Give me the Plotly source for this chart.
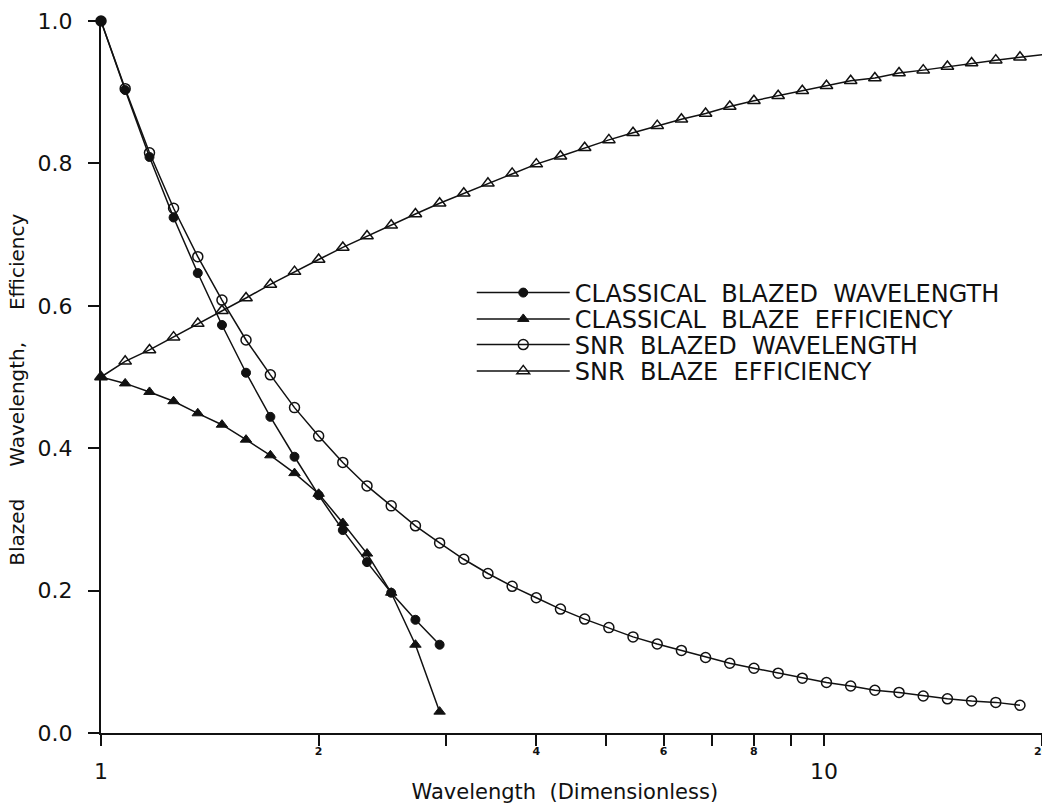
import plotly.graph_objects as go

# Wavelength sample points (dimensionless)
wavelength = [1.000, 1.080, 1.167, 1.260, 1.361, 1.470, 1.587, 1.715, 1.852, 2.000,
              2.160, 2.333, 2.520, 2.722, 2.940, 3.175, 3.429, 3.704, 4.000, 4.320,
              4.666, 5.040, 5.443, 5.879, 6.350, 6.858, 7.407, 8.000, 8.641, 9.332,
              10.079, 10.886, 11.758, 12.699, 13.716, 14.814, 16.000, 17.281, 18.665, 20.159]

classical_blazed_wavelength = [1.000, 0.903, 0.809, 0.724, 0.646, 0.573, 0.506, 0.444,
                               0.388, 0.334, 0.285, 0.240, 0.197, 0.159, 0.124]

classical_blaze_efficiency = [0.500, 0.491, 0.479, 0.466, 0.449, 0.433, 0.412, 0.390,
                              0.365, 0.336, 0.295, 0.252, 0.197, 0.124, 0.030]

snr_blazed_wavelength = [1.000, 0.905, 0.815, 0.737, 0.669, 0.608, 0.552, 0.503, 0.457,
                         0.417, 0.380, 0.347, 0.319, 0.291, 0.267, 0.244, 0.224, 0.206,
                         0.190, 0.174, 0.160, 0.148, 0.135, 0.125, 0.116, 0.106, 0.098,
                         0.091, 0.084, 0.077, 0.071, 0.066, 0.060, 0.057, 0.052, 0.048,
                         0.045, 0.043, 0.039]

snr_blaze_efficiency = [0.500, 0.522, 0.538, 0.556, 0.575, 0.593, 0.611, 0.630, 0.648,
                        0.665, 0.682, 0.698, 0.713, 0.729, 0.744, 0.758, 0.772, 0.786,
                        0.799, 0.810, 0.822, 0.833, 0.843, 0.853, 0.862, 0.870, 0.880,
                        0.888, 0.895, 0.902, 0.909, 0.916, 0.920, 0.927, 0.931, 0.936,
                        0.941, 0.945, 0.949, 0.953]

NB = "\u00a0"
ZW = "\u200b"
series_names = ["CLASSICAL" + NB * 2 + "BLAZED" + NB * 2 + "WAVELENGTH",
                "CLASSICAL" + NB * 2 + "BLAZE" + NB * 2 + "EFFICIENCY",
                "SNR" + NB * 2 + "BLAZED" + NB * 2 + "WAVELENGTH",
                "SNR" + NB * 2 + "BLAZE" + NB * 2 + "EFFICIENCY"]

minor_tick_vals = [1, 2, 3, 4, 5, 6, 7, 8, 9, 10, 20]
minor_tick_text = ["", "2", "", "4", "", "6", "", "8", "", "", "20"]
major_tick_vals = [1, 10]
major_tick_text = ["1", "10"]
y_tick_vals = [0.0, 0.2, 0.4, 0.6, 0.8, 1.0]

FONT = "DejaVu Sans"
BLACK = "#111111"

fig = go.Figure()

def add(xs, ys, name, symbol, size, lw, legend_id):
    fig.add_trace(go.Scatter(
        x=xs, y=ys, name=name, mode="lines+markers",
        line=dict(color=BLACK, width=1.5),
        marker=dict(symbol=symbol, size=size, color=BLACK,
                    line=dict(color=BLACK, width=lw)),
        cliponaxis=False, legend=legend_id,
    ))

add(wavelength[:len(classical_blazed_wavelength)], classical_blazed_wavelength,
    series_names[0], "circle", 9, 1, "legend")
add(wavelength[:len(classical_blaze_efficiency)], classical_blaze_efficiency,
    series_names[1], "triangle-up", 10, 1, "legend2")
add(wavelength[:len(snr_blazed_wavelength)], snr_blazed_wavelength,
    series_names[2], "circle-open", 10, 1.5, "legend3")
add(wavelength[:len(snr_blaze_efficiency)], snr_blaze_efficiency,
    series_names[3], "triangle-up-open", 11, 1.5, "legend4")

xr = [0, 1.3015]

def legend_box(ypos):
    return dict(
        x=0.394, y=ypos, xanchor="left", yanchor="middle",
        bgcolor="rgba(0,0,0,0)", borderwidth=0,
        font=dict(family=FONT, size=24, color=BLACK),
        itemwidth=93,
    )

fig.update_layout(
    width=1042, height=804,
    margin=dict(l=101, r=0, t=21, b=71),
    paper_bgcolor="white", plot_bgcolor="white",
    font=dict(family=FONT, color=BLACK),
    showlegend=True,
    legend=legend_box(0.618),
    legend2=legend_box(0.581),
    legend3=legend_box(0.545),
    legend4=legend_box(0.508),
    xaxis=dict(
        type="log", range=xr,
        tickvals=minor_tick_vals, ticktext=minor_tick_text,
        tickfont=dict(family=FONT, size=11, weight="bold", color=BLACK),
        ticks="outside", ticklen=11, tickwidth=1.5, tickcolor=BLACK,
        ticklabelstandoff=-4, ticklabeloverflow="allow",
        showline=True, linecolor=BLACK, linewidth=2,
        showgrid=False, zeroline=False,
        title=dict(text="Wavelength" + NB * 2 + "(Dimensionless)" + NB * 2 + ZW,
                   font=dict(family=FONT, size=21, color=BLACK), standoff=30),
        automargin=False,
    ),
    xaxis2=dict(
        type="log", range=xr, overlaying="x", anchor="y", side="bottom",
        tickvals=major_tick_vals, ticktext=major_tick_text,
        tickfont=dict(family=FONT, size=22, color=BLACK),
        ticks="", ticklabelstandoff=23,
        showline=False, showgrid=False, zeroline=False,
        automargin=False,
    ),
    yaxis=dict(
        range=[0, 1], tickvals=y_tick_vals, tickformat=".1f",
        tickfont=dict(family=FONT, size=22, color=BLACK),
        ticks="outside", ticklen=11, tickwidth=1.5, tickcolor=BLACK,
        ticklabelstandoff=11,
        showline=True, linecolor=BLACK, linewidth=2,
        showgrid=False, zeroline=False,
        title=dict(text="Blazed" + NB * 5 + "Wavelength," + NB * 5 + "Efficiency" + NB * 4 + ZW,
                   font=dict(family=FONT, size=20, color=BLACK), standoff=8),
        automargin=False,
    ),
)

# invisible trace that activates the overlay axis carrying the 1 / 10 labels
fig.add_trace(go.Scatter(x=[1], y=[None], xaxis="x2", showlegend=False,
                         hoverinfo="skip", mode="markers"))

fig.write_html("out.html",
               config={"displayModeBar": False},
               post_script="document.body.style.margin='0px';"
                           "document.body.style.overflow='hidden';")
